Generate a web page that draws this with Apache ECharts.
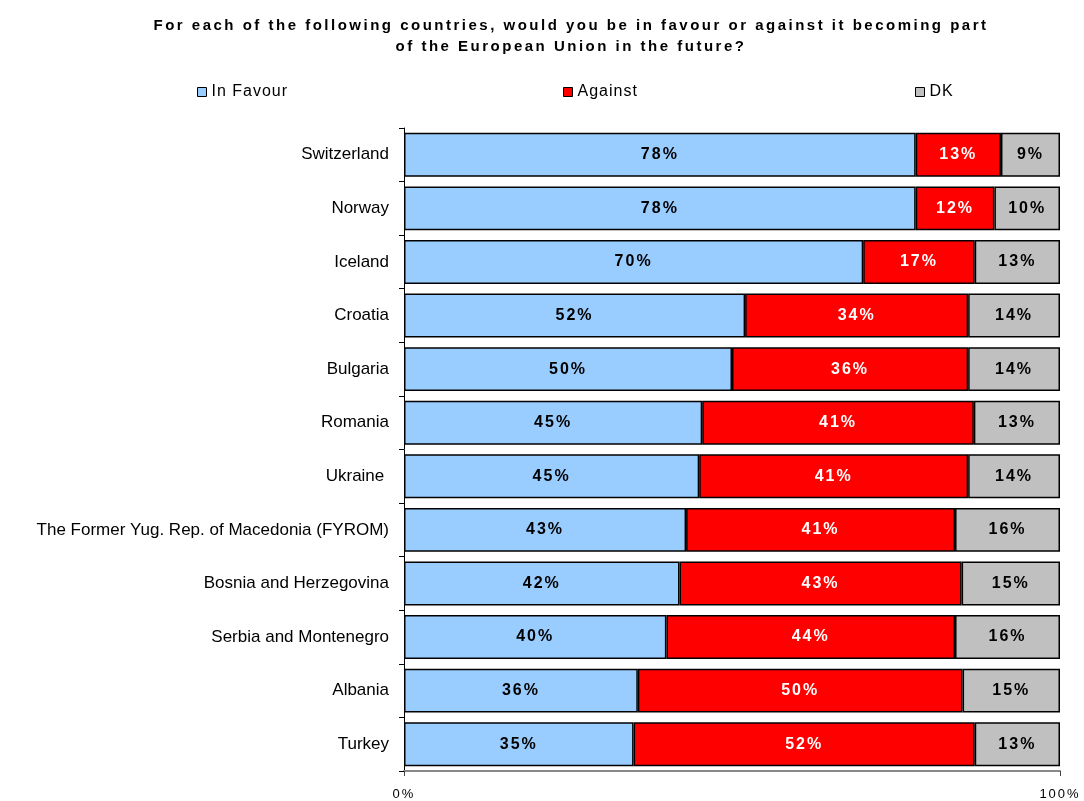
<!DOCTYPE html>
<html><head><meta charset="utf-8">
<script src="https://cdn.jsdelivr.net/npm/echarts@6/dist/echarts.min.js"></script>
<style>html,body{margin:0;padding:0;background:#fff}#c{width:1084px;height:801px}</style>
</head><body><div id="c"></div>
<script>
const categories = ["Switzerland","Norway","Iceland","Croatia","Bulgaria","Romania","Ukraine ","The Former Yug. Rep. of Macedonia (FYROM)","Bosnia and Herzegovina","Serbia and Montenegro","Albania","Turkey"];
const inFavour = [78,78,70,52,50,45,45,43,42,40,36,35];
const against = [13,12,17,34,36,41,41,41,43,44,50,52];
const dk = [9,10,13,14,14,13,14,16,15,16,15,13];
const xTicks = ["0%","100%"];

// letter spacing to mimic the reference's spaced-out text rendering
(function(){
  const P = CanvasRenderingContext2D.prototype;
  if (!('letterSpacing' in P)) return;
  const orig = P.fillText;
  P.fillText = function(t, x, y, m){
    const f = this.font || '';
    let s = '0px';
    if (/bold/.test(f) && /15px/.test(f)) s = '2.5px';
    else if (/bold/.test(f) && /16px/.test(f)) s = '2px';
    else if (/16px/.test(f)) s = '1px';
    else if (/13px/.test(f)) s = '2px';
    const prev = this.letterSpacing;
    this.letterSpacing = s;
    const r = m === undefined ? orig.call(this, t, x, y) : orig.call(this, t, x, y, m);
    this.letterSpacing = prev;
    return r;
  };
})();

const totals = categories.map((c,i)=>inFavour[i]+against[i]+dk[i]);
function mk(arr){return arr.map((v,i)=>({value:v/totals[i]*100, raw:v}));}

const chart = echarts.init(document.getElementById('c'));
const font = 'Liberation Sans, Arial, sans-serif';
function series(name, arr, color, labelColor){
  return {name, type:'bar', stack:'s', data:mk(arr), barCategoryGap:'18%',
    itemStyle:{color, borderColor:'#000', borderWidth:1.5},
    label:{show:true, position:'inside', color:labelColor, fontFamily:font, fontWeight:'bold', fontSize:16,
      formatter:p=>p.data.raw+'%'}};
}
chart.setOption({
  animation:false,
  title:{text:'For each of the following countries, would you be in favour or against it becoming part\nof the European Union in the future?',
    left:566, top:10, textAlign:'center',
    textStyle:{fontFamily:font, fontWeight:'bold', fontSize:15, lineHeight:21, color:'#000'}},
  legend:[
    {data:['In Favour'], left:192, top:79},
    {data:['Against'], left:558, top:79},
    {data:['DK'], left:910, top:79}
  ].map(l=>Object.assign(l,{icon:'rect', itemWidth:9, itemHeight:9, itemGap:4,
    itemStyle:{borderColor:'#000', borderWidth:1},
    textStyle:{fontFamily:font, fontSize:16, color:'#000'}})),
  grid:{left:404, right:24, top:128, bottom:28, containLabel:false},
  xAxis:{type:'value', min:0, max:100, interval:100,
    axisLine:{show:true, lineStyle:{color:'#888', width:2}},
    axisTick:{show:true, length:5, lineStyle:{color:'#444'}},
    splitLine:{show:false},
    axisLabel:{fontFamily:font, fontSize:13, color:'#000', margin:17,
      formatter:v=>v===0?xTicks[0]:xTicks[1]}},
  yAxis:{type:'category', data:categories, inverse:true,
    axisLine:{show:true, lineStyle:{color:'#000', width:1}},
    axisTick:{show:true, length:5, lineStyle:{color:'#000'}},
    axisLabel:{fontFamily:font, fontSize:17, color:'#000', margin:15}},
  series:[
    series('In Favour', inFavour, '#99ccff', '#000'),
    series('Against', against, '#ff0000', '#fff'),
    series('DK', dk, '#c0c0c0', '#000')
  ]
});
</script></body></html>
